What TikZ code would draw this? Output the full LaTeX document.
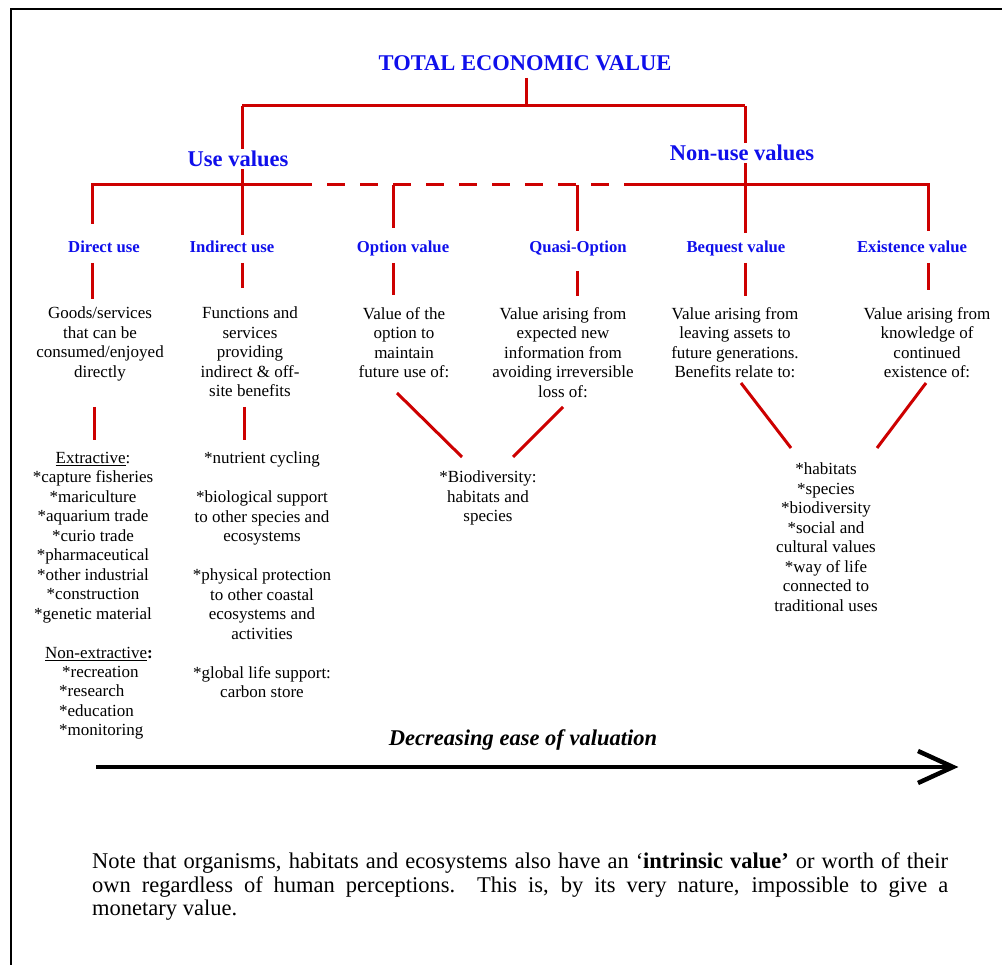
\documentclass[tikz,border=0pt]{standalone}
\usepackage{fontspec}
\setmainfont{Liberation Serif}
\definecolor{tevred}{RGB}{205,0,0}
\definecolor{tevblue}{RGB}{15,15,235}
\begin{document}
\begin{tikzpicture}[x=1pt,y=-1pt,
  redline/.style={draw=tevred,line width=3pt},
  reddash/.style={draw=tevred,line width=3pt,dash pattern=on 18pt off 15pt,dash phase=18pt},
  hdr/.style={font=\fontsize{22.5}{26}\selectfont\bfseries,text=tevblue,inner sep=0pt,anchor=base},
  sublbl/.style={font=\fontsize{16.7}{19.5}\selectfont\bfseries,text=tevblue,inner sep=0pt,anchor=base},
  body/.style={font=\fontsize{17}{19.5}\selectfont,align=center,inner sep=0pt,anchor=north},
  bodyleft/.style={font=\fontsize{17}{19.5}\selectfont,align=left,inner sep=0pt,anchor=north west},
]
\useasboundingbox (0,0) rectangle (1002,965);
% frame
\draw[line width=2.5pt] (11,965) -- (11,9) -- (1002,9);

% title
\node[hdr] (title) at (525,70.5) {TOTAL ECONOMIC VALUE};

% junction coordinates
\coordinate (t0) at (526,78);
\coordinate (jt) at (526,106);
\coordinate (jl) at (242,106);
\coordinate (jr) at (745,106);
\coordinate (h0) at (92,185);
\coordinate (h1) at (312,185);
\coordinate (h2) at (628,185);
\coordinate (hop) at (393,185);
\coordinate (hqo) at (577,185);
\coordinate (dir0) at (92,224);
\coordinate (ind0) at (242,235);
\coordinate (opt0) at (393,228);
\coordinate (qua0) at (577,231);
\coordinate (beq0) at (745,233);
\coordinate (exi0) at (928,231);

\draw[redline] (t0) -- (jt);
\draw[redline] (jl) -- (jr);
\draw[redline] (jl) -- (ind0);
\draw[redline] (jr) -- (beq0);
\draw[redline] (dir0) |- (h1);
\draw[reddash] (h1) -- (h2);
\draw[redline] (h2) -| (exi0);
\draw[redline] (hop) -- (opt0);
\draw[redline] (hqo) -- (qua0);

% value group headers
\node[hdr,fill=white,inner sep=2pt] (usev) at (238,166.5) {Use values};
\node[hdr,fill=white,inner sep=2pt] (nonuse) at (742,160.5) {Non-use values};

% sub labels
\node[sublbl] (dlab) at (104,252.5) {Direct use};
\node[sublbl] (ilab) at (232,252.5) {Indirect use};
\node[sublbl] (olab) at (403,252.5) {Option value};
\node[sublbl] (qlab) at (578,252.5) {Quasi-Option};
\node[sublbl] (blab) at (736,252.5) {Bequest value};
\node[sublbl] (elab) at (912,252.5) {Existence value};

% short connectors under labels
\coordinate (d1a) at (92,263);  \coordinate (d1b) at (92,299);
\coordinate (i1a) at (242,263); \coordinate (i1b) at (242,288);
\coordinate (o1a) at (393,263); \coordinate (o1b) at (393,295);
\coordinate (q1a) at (577,271); \coordinate (q1b) at (577,296);
\coordinate (b1a) at (745,263); \coordinate (b1b) at (745,296);
\coordinate (e1a) at (928,263); \coordinate (e1b) at (928,290);
\draw[redline] (d1a) -- (d1b);
\draw[redline] (i1a) -- (i1b);
\draw[redline] (o1a) -- (o1b);
\draw[redline] (q1a) -- (q1b);
\draw[redline] (b1a) -- (b1b);
\draw[redline] (e1a) -- (e1b);

% descriptions
\node[body] (ddesc) at (100,307) {Goods/services\\that can be\\consumed/enjoyed\\directly};
\node[body] (idesc) at (250,307) {Functions and\\services\\providing\\indirect \& off-\\site benefits};
\node[body] (odesc) at (404,307) {Value of the\\option to\\maintain\\future use of:};
\node[body] (qdesc) at (563,307) {Value arising from\\expected new\\information from\\avoiding irreversible\\loss of:};
\node[body] (bdesc) at (735,307) {Value arising from\\leaving assets to\\future generations.\\Benefits relate to:};
\node[body] (edesc) at (927,307) {Value arising from\\knowledge of\\continued\\existence of:};

% connectors to lists
\coordinate (d2a) at (94,407);  \coordinate (d2b) at (94,440);
\coordinate (i2a) at (244,407); \coordinate (i2b) at (244,440);
\draw[redline] (d2a) -- (d2b);
\draw[redline] (i2a) -- (i2b);

\coordinate (oa) at (397,393); \coordinate (ob) at (462,457);
\coordinate (qa) at (563,407); \coordinate (qb) at (513,457);
\coordinate (ba) at (741,383); \coordinate (bb) at (791,448);
\coordinate (ea) at (926,383); \coordinate (eb) at (877,448);
\draw[redline] (oa) -- (ob);
\draw[redline] (qa) -- (qb);
\draw[redline] (ba) -- (bb);
\draw[redline] (ea) -- (eb);

% lists
\node[body] (extr) at (93,452) {\underline{Extractive}:\\{*}capture fisheries\\{*}mariculture\\{*}aquarium trade\\{*}curio trade\\{*}pharmaceutical\\{*}other industrial\\{*}construction\\{*}genetic material};
\node[body] (nonext) at (99,647) {\underline{Non-extractive}\textbf{:}};
\node[bodyleft] (nonextl) at (59,666) {\hspace*{3pt}{*}recreation\\{*}research\\{*}education\\{*}monitoring};
\node[body] (indl) at (262,452) {{*}nutrient cycling\\[19.5pt]{*}biological support\\to other species and\\ecosystems\\[19.5pt]{*}physical protection\\to other coastal\\ecosystems and\\activities\\[19.5pt]{*}global life support:\\carbon store};
\node[body] (biod) at (488,471) {{*}Biodiversity:\\habitats and\\species};
\node[body] (nonusel) at (826,463) {{*}habitats\\{*}species\\{*}biodiversity\\{*}social and\\cultural values\\{*}way of life\\connected to\\traditional uses};

% arrow
\node[font=\fontsize{22.5}{26}\selectfont\bfseries\itshape,inner sep=0pt,anchor=base] (arrlbl) at (523,745.5) {Decreasing ease of valuation};
\coordinate (as) at (96,767);
\coordinate (ae) at (950,767);
\coordinate (ah1) at (918,751);
\coordinate (ah2) at (918,783);
\draw[line width=4.5pt] (as) -- (ae);
\draw[line width=4.5pt,line join=miter] (ah1) -- (953,767) -- (ah2);

% note
\node[anchor=north west,text width=856pt,align=justify,inner sep=0pt,font=\fontsize{22.5}{23.6}\selectfont] (note) at (92,852.5) {\tolerance=10000 Note that organisms, habitats and ecosystems also have an ‘\textbf{intrinsic value’} or worth of their\linebreak own regardless of human perceptions.\ \ This is, by its very nature, impossible to give a\linebreak monetary value.};
\end{tikzpicture}
\end{document}
